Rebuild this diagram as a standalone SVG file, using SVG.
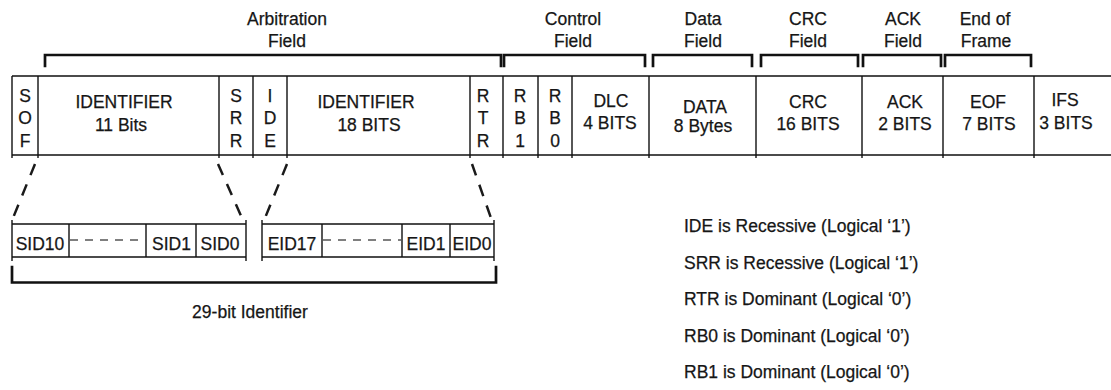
<svg xmlns="http://www.w3.org/2000/svg" width="1111" height="390" viewBox="0 0 1111 390">
  <style>
    text { font-family: "Liberation Sans", Arial, sans-serif; font-size: 17.5px; fill: #161616; stroke: #161616; stroke-width: 0.25; }
    .c { text-anchor: middle; }
    .grid { stroke: #111; stroke-width: 1.4; fill: none; }
    .brk { stroke: #111; stroke-width: 2.7; fill: none; stroke-linecap: square; }
    .zoom { stroke: #1a1a1a; stroke-width: 2.5; fill: none; stroke-dasharray: 12 10; }
    .gap { stroke: #555; stroke-width: 1.6; stroke-dasharray: 8 7; }
  </style>

  <!-- field group labels with brackets -->
  <g id="arbitration-field">
    <text class="c" x="287" y="25">Arbitration</text>
    <text class="c" x="287" y="47">Field</text>
    <path class="brk" d="M45,66 V55 H501 V66"/>
  </g>
  <g id="control-field">
    <text class="c" x="573" y="25">Control</text>
    <text class="c" x="573" y="47">Field</text>
    <path class="brk" d="M504,66 V55 H645 V66"/>
  </g>
  <g id="data-field">
    <text class="c" x="703" y="25">Data</text>
    <text class="c" x="703" y="47">Field</text>
    <path class="brk" d="M653,66 V55 H752 V66"/>
  </g>
  <g id="crc-field">
    <text class="c" x="808" y="25">CRC</text>
    <text class="c" x="808" y="47">Field</text>
    <path class="brk" d="M761,66 V55 H858 V66"/>
  </g>
  <g id="ack-field">
    <text class="c" x="903" y="25">ACK</text>
    <text class="c" x="903" y="47">Field</text>
    <path class="brk" d="M863,66 V55 H941 V66"/>
  </g>
  <g id="end-of-frame">
    <text class="c" x="985" y="25">End of</text>
    <text class="c" x="986" y="47">Frame</text>
    <path class="brk" d="M945,66 V55 H1031 V66"/>
  </g>

  <!-- frame row outline -->
  <g id="frame-grid" class="grid">
    <path d="M12,76 H1111 M12,155 H1111"/>
    <path d="M12,76 V158 M38,76 V158 M219,76 V158 M253,76 V158 M287,76 V158 M470,76 V158 M503,76 V158 M538,76 V158 M572,76 V158 M649,76 V158 M756,76 V158 M862,76 V158 M943,76 V158 M1034,76 V158"/>
  </g>

  <!-- frame row cells -->
  <g id="sof">
    <text class="c" x="25" y="102">S</text>
    <text class="c" x="25" y="124">O</text>
    <text class="c" x="25" y="147">F</text>
  </g>
  <g id="identifier-11">
    <text class="c" x="124" y="108">IDENTIFIER</text>
    <text class="c" x="121" y="131">11 Bits</text>
  </g>
  <g id="srr">
    <text class="c" x="236" y="102">S</text>
    <text class="c" x="236" y="124">R</text>
    <text class="c" x="236" y="147">R</text>
  </g>
  <g id="ide">
    <text class="c" x="270" y="102">I</text>
    <text class="c" x="270" y="124">D</text>
    <text class="c" x="270" y="147">E</text>
  </g>
  <g id="identifier-18">
    <text class="c" x="366" y="108">IDENTIFIER</text>
    <text class="c" x="369" y="131">18 BITS</text>
  </g>
  <g id="rtr">
    <text class="c" x="483" y="102">R</text>
    <text class="c" x="483" y="124">T</text>
    <text class="c" x="483" y="147">R</text>
  </g>
  <g id="rb1">
    <text class="c" x="520" y="102">R</text>
    <text class="c" x="520" y="124">B</text>
    <text class="c" x="520" y="147">1</text>
  </g>
  <g id="rb0">
    <text class="c" x="555" y="102">R</text>
    <text class="c" x="555" y="124">B</text>
    <text class="c" x="555" y="147">0</text>
  </g>
  <g id="dlc">
    <text class="c" x="611" y="107">DLC</text>
    <text class="c" x="610" y="129">4 BITS</text>
  </g>
  <g id="data">
    <text class="c" x="705" y="113">DATA</text>
    <text class="c" x="703" y="132">8 Bytes</text>
  </g>
  <g id="crc">
    <text class="c" x="808" y="108">CRC</text>
    <text class="c" x="808" y="130">16 BITS</text>
  </g>
  <g id="ack">
    <text class="c" x="905" y="108">ACK</text>
    <text class="c" x="905" y="130">2 BITS</text>
  </g>
  <g id="eof">
    <text class="c" x="988" y="108">EOF</text>
    <text class="c" x="989" y="130">7 BITS</text>
  </g>
  <g id="ifs">
    <text class="c" x="1065" y="106">IFS</text>
    <text class="c" x="1066" y="129">3 BITS</text>
  </g>

  <!-- expansion guides from the identifier fields -->
  <g id="connectors">
    <line class="zoom" x1="35" y1="164" x2="13" y2="218"/>
    <line class="zoom" x1="218" y1="164" x2="242" y2="218"/>
    <line class="zoom" x1="287" y1="164" x2="265" y2="218"/>
    <line class="zoom" x1="472" y1="164" x2="491" y2="218"/>
  </g>

  <!-- standard identifier bits -->
  <g id="sid-bits">
    <path class="grid" d="M12,224 H246 M12,257 H246 M12,220 V261 M69,224 V257 M146,224 V257 M196,224 V257 M246,220 V261"/>
    <line class="gap" x1="70" y1="240" x2="146" y2="240"/>
    <text class="c" x="40" y="250">SID10</text>
    <text class="c" x="171.5" y="250">SID1</text>
    <text class="c" x="220" y="250">SID0</text>
  </g>

  <!-- extended identifier bits -->
  <g id="eid-bits">
    <path class="grid" d="M262,224 H494 M262,257 H494 M262,220 V261 M322,224 V257 M402,224 V257 M450,224 V257 M494,220 V261"/>
    <line class="gap" x1="323" y1="240" x2="402" y2="240"/>
    <text class="c" x="292" y="250">EID17</text>
    <text class="c" x="426" y="250">EID1</text>
    <text class="c" x="472" y="250">EID0</text>
  </g>

  <g id="identifier-29">
    <path class="brk" d="M12,267 V282.5 H496 V267"/>
    <text class="c" x="250" y="318">29-bit Identifier</text>
  </g>

  <!-- bit level notes -->
  <g id="notes">
    <text x="684" y="232">IDE is Recessive (Logical ‘1’)</text>
    <text x="684" y="268.5">SRR is Recessive (Logical ‘1’)</text>
    <text x="684" y="305">RTR is Dominant (Logical ‘0’)</text>
    <text x="684" y="341.5">RB0 is Dominant (Logical ‘0’)</text>
    <text x="684" y="378">RB1 is Dominant (Logical ‘0’)</text>
  </g>
</svg>
